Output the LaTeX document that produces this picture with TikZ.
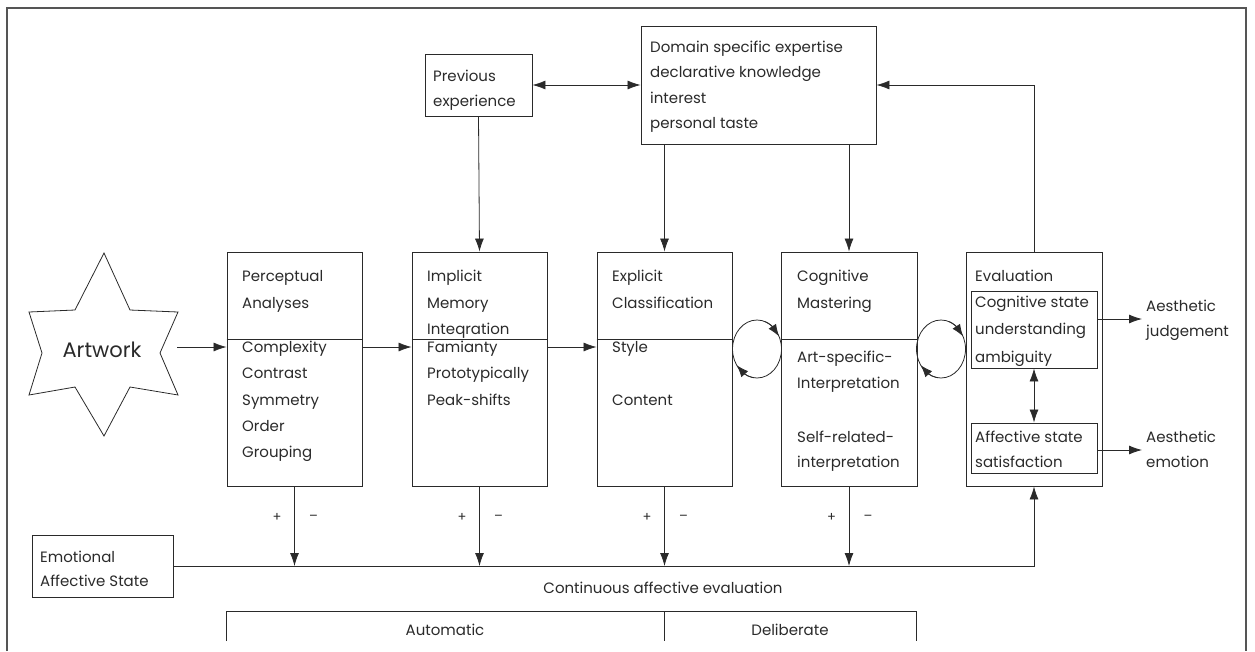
\documentclass[tikz,border=0pt]{standalone}
\usepackage{fontspec}
\setmainfont{Poppins}
\usetikzlibrary{arrows.meta,bending,calc}
\definecolor{ink}{HTML}{2A2A2A}
\definecolor{frm}{HTML}{555555}
\begin{document}
\begin{tikzpicture}[x=1pt,y=1pt,
  box/.style={draw=ink,line width=0.9pt,inner sep=0pt},
  lbl/.style={anchor=base west,inner sep=0pt,text=ink,font=\fontsize{15}{18}\selectfont},
  ctr/.style={anchor=base,inner sep=0pt,text=ink,font=\fontsize{15}{18}\selectfont},
  sgn/.style={inner sep=0pt,text=ink,font=\fontsize{13}{15}\selectfont},
  ln/.style={draw=ink,line width=0.8pt},
  arr/.style={ln,-{Latex[length=13pt,width=9pt]}},
  darr/.style={ln,{Latex[length=13pt,width=9pt]}-{Latex[length=13pt,width=9pt]}},
  larr/.style={ln,-{Latex[length=12pt,width=9pt,flex]}}
]
\path[use as bounding box] (0,0) rectangle (1255,-651);
\draw[frm,line width=1.2pt] (7,-651) -- (7,-8) -- (1246,-8) -- (1246,-651);

% top boxes
\node[box,minimum width=107pt,minimum height=62pt] (prev) at (478.5,-85) {};
\node[box,minimum width=235pt,minimum height=118pt] (dom) at (758.5,-85) {};
\node[lbl] (prev1) at (433,-81) {Previous};
\node[lbl] (prev2) at (433,-106) {experience};
\node[lbl] (dom1) at (650,-52) {Domain specific expertise};
\node[lbl] (dom2) at (650,-77) {declarative knowledge};
\node[lbl] (dom3) at (650,-103) {interest};
\node[lbl] (dom4) at (650,-128) {personal taste};

% main boxes
\node[box,minimum width=135pt,minimum height=234pt] (perc) at (294.5,-369) {};
\node[box,minimum width=135pt,minimum height=234pt] (impl) at (479.5,-369) {};
\node[box,minimum width=135pt,minimum height=234pt] (expl) at (664.5,-369) {};
\node[box,minimum width=136pt,minimum height=234pt] (cogn) at (849,-369) {};
\node[box,minimum width=136pt,minimum height=234pt] (eval) at (1034,-369) {};
\foreach \b in {perc,impl,expl,cogn}{
  \draw[ln,line width=0.9pt] (\b.west |- 0,-339) -- (\b.east |- 0,-339);
}
\node[box,minimum width=126pt,minimum height=77pt] (cogs) at (1034,-329.5) {};
\node[box,minimum width=126pt,minimum height=50pt] (affs) at (1034,-448) {};

% artwork star
\draw[ink,line width=0.8pt] (104,-253) -- (130,-310) -- (178,-312) -- (160,-353) -- (178,-395) -- (130,-387)
  -- (104,-436) -- (75,-387) -- (29,-395) -- (42,-353) -- (29,-312) -- (75,-310) -- cycle;
\node[inner sep=0pt,text=ink,font=\fontsize{21}{25}\selectfont] (art) at (102,-350) {Artwork};
\coordinate (starR) at (177,-347);

% box texts
\node[lbl] (pa1) at (242,-281) {Perceptual};
\node[lbl] (pa2) at (242,-308) {Analyses};
\node[lbl] (pa3) at (242,-352) {Complexity};
\node[lbl] (pa4) at (242,-378) {Contrast};
\node[lbl] (pa5) at (242,-405) {Symmetry};
\node[lbl] (pa6) at (242,-431) {Order};
\node[lbl] (pa7) at (242,-457) {Grouping};

\node[lbl] (im1) at (427,-281) {Implicit};
\node[lbl] (im2) at (427,-308) {Memory};
\node[lbl] (im3) at (427,-334) {Inteqration};
\node[lbl] (im4) at (427,-352) {Famianty};
\node[lbl] (im5) at (427,-378) {Prototypically};
\node[lbl] (im6) at (427,-405) {Peak-shifts};

\node[lbl] (ex1) at (612,-281) {Explicit};
\node[lbl] (ex2) at (612,-308) {Classification};
\node[lbl] (ex3) at (612,-352) {Style};
\node[lbl] (ex4) at (612,-405) {Content};

\node[lbl] (cm1) at (797,-281) {Cognitive};
\node[lbl] (cm2) at (797,-308) {Mastering};
\node[lbl] (cm3) at (797,-362) {Art-specific-};
\node[lbl] (cm4) at (797,-388) {Interpretation};
\node[lbl] (cm5) at (797,-442) {Self-related-};
\node[lbl] (cm6) at (797,-467) {interpretation};

\node[lbl] (ev0) at (975,-281) {Evaluation};
\node[lbl] (ev1) at (975,-307) {Cognitive state};
\node[lbl] (ev2) at (975,-334) {understanding};
\node[lbl] (ev3) at (975,-362) {ambiguity};
\node[lbl] (ev4) at (975,-442) {Affective state};
\node[lbl] (ev5) at (975,-467) {satisfaction};

\node[lbl] (aj1) at (1146,-311) {Aesthetic};
\node[lbl] (aj2) at (1146,-336) {judgement};
\node[lbl] (ae1) at (1146,-442) {Aesthetic};
\node[lbl] (ae2) at (1146,-467) {emotion};

% emotional box
\node[box,minimum width=141pt,minimum height=62pt] (emo) at (102.5,-566) {};
\node[lbl] (emo1) at (40,-562) {Emotional};
\node[lbl] (emo2) at (40,-586) {Affective State};
\node[ctr] (cont) at (663,-593) {Continuous affective evaluation};

% bracket
\coordinate (bl) at (226,-641);
\coordinate (bm) at (664,-641);
\coordinate (br) at (916,-641);
\draw[ln] (bl) -- (226,-611) -- (916,-611) -- (br);
\draw[ln] (664,-611) -- (bm);
\node[ctr] (auto) at (445,-635) {Automatic};
\node[ctr] (delib) at (790,-635) {Deliberate};

% connectors top
\draw[darr] (prev.east) -- (dom.west);
\draw[arr] (prev.south) -- (impl.north);
\draw[arr] (dom.south -| expl.north) -- (expl.north);
\draw[arr] (dom.south -| cogn.north) -- (cogn.north);
\draw[arr] (eval.north) |- (dom.east);

% horizontal flow
\draw[arr] (starR) -- (perc.west |- starR);
\draw[arr] (perc.east |- starR) -- (impl.west |- starR);
\draw[arr] (impl.east |- starR) -- (expl.west |- starR);

% loops
\foreach \cx in {757,941}{
  \draw[ln] (\cx,-349) ellipse[x radius=24.5,y radius=29];
  \draw[larr] (\cx,-349) ++(72:24.5 and 29) arc[start angle=72,end angle=26,x radius=24.5,y radius=29];
  \draw[larr] (\cx,-349) ++(262:24.5 and 29) arc[start angle=262,end angle=214,x radius=24.5,y radius=29];
}

% evaluation internals
\draw[darr] (cogs.south) -- (affs.north);
\coordinate (ajt) at (1142,-319);
\coordinate (aet) at (1142,-450);
\draw[arr] (cogs.east |- ajt) -- (ajt);
\draw[arr] (affs.east |- aet) -- (aet);

% bottom arrows
\coordinate (base) at (0,-566);
\foreach \b in {perc,impl,expl,cogn}{
  \draw[arr] (\b.south) -- (\b.south |- base);
  \node[sgn] (\b p) at ($(\b.south)+(-17.5,-31)$) {+};
  \node[sgn] (\b m) at ($(\b.south)+(19,-31)$) {\textendash};
}
\draw[arr] (emo.east) -| (eval.south);
\end{tikzpicture}
\end{document}
